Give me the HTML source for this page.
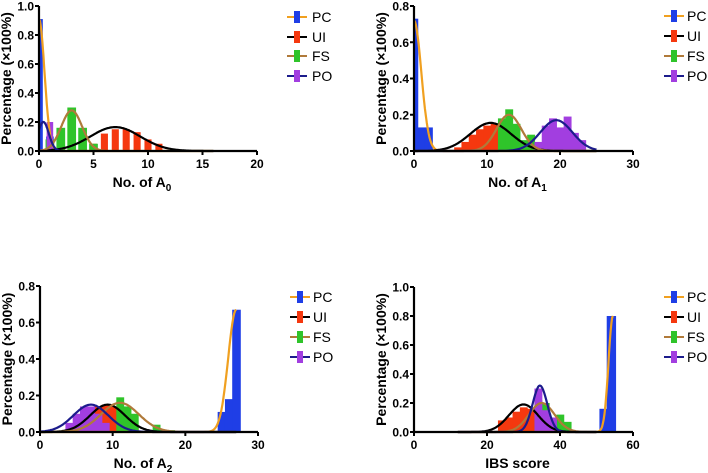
<!DOCTYPE html>
<html><head><meta charset="utf-8">
<style>
html,body{margin:0;padding:0;background:#fff;}
svg{display:block;font-family:"Liberation Sans",Arial,sans-serif;}
.tick{font-size:12px;font-weight:bold;fill:#000;}
.title{font-size:14px;font-weight:bold;fill:#000;}
.leg{font-size:14px;fill:#000;}
</style></head>
<body>
<svg id="chart" width="708" height="473" viewBox="0 0 708 473"></svg>
<script>
// ---------- Data ----------
const groups = ["PC","UI","FS","PO"];
// Panel A0
const a0PC = [[0,0.91],[1,0.1],[2,0.03],[5,0.02]];
const a0UI = [[5,0.05],[6,0.12],[7,0.15],[8,0.15],[9,0.13],[10,0.08],[11,0.05]];
const a0FS = [[1,0.08],[2,0.16],[3,0.30],[4,0.16],[5,0.05]];
const a0PO = [[1,0.2]];
const a0Fit = [[0,0.5,0.91],[7,2.3,0.165],[3,0.95,0.28],[0.4,0.5,0.2]]; // mean, sd, peak per group
// Panel A1
const a1PC = [[0,0.73],[1,0.13],[2,0.13]];
const a1UI = [[6,0.02],[7,0.05],[8,0.09],[9,0.12],[10,0.14],[11,0.15],[12,0.13],[13,0.1],[14,0.05],[15,0.03]];
const a1FS = [[12,0.18],[13,0.23],[14,0.15],[15,0.06],[16,0.09]];
const a1PO = [[17,0.05],[18,0.14],[19,0.18],[20,0.13],[21,0.19],[22,0.1],[23,0.06]];
const a1Fit = [[0,1.0,0.72],[10.5,2.8,0.155],[13,1.7,0.2],[19.5,2.2,0.17]];
// Panel A2
const a2PC = [[25,0.11],[26,0.18],[27,0.67]];
const a2UI = [[5,0.02],[6,0.1],[7,0.13],[8,0.14],[9,0.15],[10,0.14],[11,0.1],[12,0.06],[13,0.03]];
const a2FS = [[11,0.19],[12,0.14],[13,0.1],[16,0.04],[17,0.01],[18,0.01]];
const a2PO = [[4,0.05],[5,0.1],[6,0.14],[7,0.14],[8,0.1],[9,0.05]];
const a2Fit = [[27,1.1,0.67],[9.3,2.4,0.15],[11,2.6,0.16],[7,2.4,0.15]];
// Panel IBS
const ibPC = [[52,0.16],[54,0.8]];
const ibUI = [[24,0.08],[26,0.1],[28,0.14],[30,0.17],[32,0.16],[34,0.1]];
const ibFS = [[34,0.22],[36,0.2],[38,0.1],[40,0.12],[42,0.07]];
const ibPO = [[34,0.3],[36,0.15],[38,0.1]];
const ibFit = [[54.5,1.2,0.8],[30,4,0.19],[35,3.5,0.2],[34.5,2,0.32]];

const barCol = {PC:"#1f3ee6",UI:"#f5380f",FS:"#2fc42a",PO:"#a23ee0"};
const lineCol = {PC:"#f0a020",UI:"#000000",FS:"#b07a3a",PO:"#1c1c8c"};

const panels = [
 {id:"a0",x0:39,x1:257,y0:151,y1:6,xmax:20,ymax:1.0,xt:[0,5,10,15,20],yt:[0,0.2,0.4,0.6,0.8,1.0],xlabel:["No. of A","0"],
  bars:[a0PC,a0UI,a0FS,a0PO],bw:[0.7,0.65,0.8,0.6],fit:a0Fit,fr:[[0,16],[0,16],[0,6],[0,2]],
  leg:{lx:287,tx:312,y:[17,37,56,76]}},
 {id:"a1",x0:414,x1:633,y0:151,y1:6,xmax:30,ymax:0.8,xt:[0,10,20,30],yt:[0,0.2,0.4,0.6,0.8],xlabel:["No. of A","1"],
  bars:[a1PC,a1UI,a1FS,a1PO],bw:[1,1,1,1],fit:a1Fit,fr:[[0,25],[0,25],[0,25],[0,25]],
  leg:{lx:664,tx:687,y:[16,36,56,76]}},
 {id:"a2",x0:40,x1:258,y0:432,y1:286,xmax:30,ymax:0.8,xt:[0,10,20,30],yt:[0,0.2,0.4,0.6,0.8],xlabel:["No. of A","2"],
  bars:[a2PC,a2UI,a2FS,a2PO],bw:[1.1,1,1,1],fit:a2Fit,fr:[[0,27],[0,27],[0,27],[0,27]],
  leg:{lx:290,tx:313,y:[297,317,337,357]}},
 {id:"ibs",x0:414,x1:633,y0:432,y1:287,xmax:60,ymax:1.0,xt:[0,20,40,60],yt:[0,0.2,0.4,0.6,0.8,1.0],xlabel:["IBS score",""],
  bars:[ibPC,ibUI,ibFS,ibPO],bw:[2.4,2,2,2],fit:ibFit,fr:[[12,54.5],[12,50],[12,50],[12,50]],
  leg:{lx:664,tx:687,y:[297,317,337,357]}}
];

const NS="http://www.w3.org/2000/svg";
const svg=document.getElementById("chart");
function mk(tag,attrs,parent){const e=document.createElementNS(NS,tag);for(const k in attrs)e.setAttribute(k,attrs[k]);(parent||svg).appendChild(e);return e;}

panels.forEach(p=>{
  const g=mk("g",{});
  
  
  const sx=v=>p.x0+(v/p.xmax)*(p.x1-p.x0);
  const sy=v=>p.y0-(v/p.ymax)*(p.y0-p.y1);
  p.bars.forEach((arr,gi)=>{
    const name=groups[gi];
    arr.forEach(d=>{
      const w=p.bw[gi];
      const xa=Math.max(sx(d[0]-w/2),p.x0+1), xb=sx(d[0]+w/2);
      const r=mk("rect",{x:xa,y:sy(d[1]),width:Math.max(xb-xa+(w>=1?0.6:0),1),height:p.y0-sy(d[1]),fill:barCol[name]},g);
      
      
    });
  });
  p.fit.forEach((f,gi)=>{
    const name=groups[gi];
    const [a,b]=p.fr[gi];
    let pts=[];
    for(let i=0;i<=200;i++){const x=a+(b-a)*i/200;const y=f[2]*Math.exp(-0.5*Math.pow((x-f[0])/f[1],2));pts.push(sx(x).toFixed(1)+","+sy(y).toFixed(1));}
    const pl=mk("polyline",{points:pts.join(" "),fill:"none",stroke:lineCol[name],"stroke-width":2.2},g);
    
    
  });
  const ax=mk("path",{d:`M${p.x0},${p.y1} V${p.y0} H${p.x1}`,fill:"none",stroke:"#000","stroke-width":2.2},g);
  
  
  p.yt.forEach(t=>{
    mk("line",{x1:p.x0-4,x2:p.x0,y1:sy(t),y2:sy(t),stroke:"#000","stroke-width":2},g);
    const tx=mk("text",{x:p.x0-5,y:sy(t)+4.5,"text-anchor":"end",class:"tick"},g);
    tx.textContent=t.toFixed(1);
    
    
  });
  p.xt.forEach(t=>{
    mk("line",{x1:sx(t),x2:sx(t),y1:p.y0,y2:p.y0+4,stroke:"#000","stroke-width":2},g);
    const tx=mk("text",{x:sx(t),y:p.y0+17,"text-anchor":"middle",class:"tick"},g);
    tx.textContent=t;
    
    
  });
  const xtl=mk("text",{x:(p.x0+p.x1)/2-6,y:p.y0+36,"text-anchor":"middle",class:"title"},g);
  xtl.textContent=p.xlabel[0];
  if(p.xlabel[1]){const ts=mk("tspan",{"font-size":"10px",dy:"4"},xtl);ts.textContent=p.xlabel[1];}
  
  
  const cy=(p.y0+p.y1)/2, cx=p.x0-28;
  const ytl=mk("text",{x:cx,y:cy,"text-anchor":"middle",class:"title",transform:`rotate(-90 ${cx} ${cy})`},g);
  ytl.textContent="Percentage (×100%)";
  
  
  groups.forEach((name,i)=>{
    const ly=p.leg.y[i];
    const lg=mk("g",{},g);
    
    
    mk("line",{x1:p.leg.lx,x2:p.leg.lx+20,y1:ly,y2:ly,stroke:lineCol[name],"stroke-width":2},lg);
    mk("rect",{x:p.leg.lx+7,y:ly-6,width:6,height:12,fill:barCol[name]},lg);
    const t=mk("text",{x:p.leg.tx,y:ly+5,class:"leg"},lg);
    t.textContent=name;
  });
});
</script>
</body></html>
